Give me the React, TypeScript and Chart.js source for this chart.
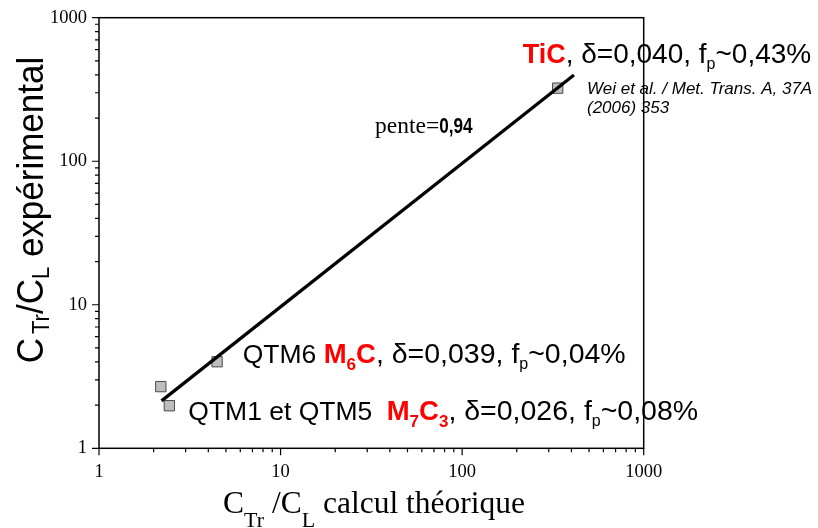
import { useEffect, useRef } from "react";
import { Chart, registerables } from "chart.js";

Chart.register(...registerables);

// ---- data ----
const xTheo = [2.19, 2.44, 4.47, 336];
const yExp = [2.69, 1.98, 4.01, 323];
const fitX = [2.21, 413];
const fitY = [2.14, 399];
const majorTicks = [1, 10, 100, 1000];
const tickLabels = ["1", "10", "100", "1000"];
const minorMultipliers = [2, 3, 4, 5, 6, 7, 8, 9];

const SANS = '"Liberation Sans", Arial, sans-serif';
const SERIF = '"Liberation Serif", "Times New Roman", serif';
const RED = "#ff0000";

type Seg = { t: string; font: string; color?: string; dy?: number; sx?: number; dx?: number };

function drawRich(ctx: CanvasRenderingContext2D, x: number, y: number, segs: Seg[]) {
  let cx = x;
  for (const s of segs) {
    ctx.font = s.font;
    ctx.fillStyle = s.color || "#000";
    const sx = s.sx ?? 1;
    ctx.save();
    ctx.translate(cx, y + (s.dy || 0));
    ctx.scale(sx, 1);
    ctx.fillText(s.t, 0, 0);
    ctx.restore();
    cx += ctx.measureText(s.t).width * sx + (s.dx || 0);
  }
  return cx;
}

export default function App() {
  const ref = useRef<HTMLCanvasElement>(null);

  useEffect(() => {
    const canvas = ref.current;
    if (!canvas) return;

    const overlay = {
      id: "overlay",
      afterDraw(chart: any) {
        const ctx: CanvasRenderingContext2D = chart.ctx;
        const xs = chart.scales.x;
        const ys = chart.scales.y;
        const { left, right, top, bottom } = chart.chartArea;
        ctx.save();
        // frame
        ctx.strokeStyle = "#000";
        ctx.lineWidth = 1.5;
        ctx.strokeRect(left, top, right - left, bottom - top);

        // ticks
        const minorVals: number[] = [];
        majorTicks.slice(0, -1).forEach((d) => minorMultipliers.forEach((m) => minorVals.push(d * m)));
        ctx.lineWidth = 1.2;
        ctx.beginPath();
        for (const v of majorTicks) {
          const px = xs.getPixelForValue(v);
          ctx.moveTo(px, bottom);
          ctx.lineTo(px, bottom + 7);
          const py = ys.getPixelForValue(v);
          ctx.moveTo(left, py);
          ctx.lineTo(left - 7, py);
        }
        for (const v of minorVals) {
          const px = xs.getPixelForValue(v);
          ctx.moveTo(px, bottom);
          ctx.lineTo(px, bottom + 4);
          const py = ys.getPixelForValue(v);
          ctx.moveTo(left, py);
          ctx.lineTo(left - 4, py);
        }
        ctx.stroke();

        // tick labels
        ctx.fillStyle = "#000";
        ctx.font = `18.5px ${SERIF}`;
        ctx.textBaseline = "middle";
        ctx.textAlign = "center";
        majorTicks.forEach((v, i) => ctx.fillText(tickLabels[i], xs.getPixelForValue(v), bottom + 24));
        ctx.textAlign = "right";
        majorTicks.forEach((v, i) => ctx.fillText(tickLabels[i], left - 12, ys.getPixelForValue(v)));

        ctx.textAlign = "left";
        ctx.textBaseline = "alphabetic";

        // x title
        const s30 = `31.5px ${SERIF}`;
        const s21 = `22px ${SERIF}`;
        drawRich(ctx, 223, 513, [
          { t: "C", font: s30 },
          { t: "Tr", font: s21, dy: 14 },
          { t: " /C", font: s30 },
          { t: "L", font: s21, dy: 14 },
          { t: " calcul théorique", font: s30 },
        ]);

        // y title (rotated)
        ctx.save();
        ctx.translate(43, 363.3);
        ctx.rotate(-Math.PI / 2);
        ctx.scale(1, 1.08);
        const a32 = `35px ${SANS}`;
        const a21 = `22px ${SANS}`;
        drawRich(ctx, 0, 0, [
          { t: "C", font: a32, dx: 4 },
          { t: "Tr", font: a21, dy: 6 },
          { t: "/C", font: a32 },
          { t: "L", font: a21, dy: 6 },
          { t: " expérimental", font: a32 },
        ]);
        ctx.restore();

        // annotations
        const f28 = `28.5px ${SANS}`;
        const b27 = `bold 27px ${SANS}`;
        const f26 = `26.5px ${SANS}`;
        const b26 = `bold 27.5px ${SANS}`;
        const sub = `16px ${SANS}`;
        const bsub = `bold 17px ${SANS}`;

        drawRich(ctx, 522.7, 63.3, [
          { t: "TiC", font: b27, color: RED },
          { t: ", δ=0,040, f", font: `28px ${SANS}` },
          { t: "p", font: sub, dy: 6 },
          { t: "~0,43%", font: `28px ${SANS}` },
        ]);

        const it = `italic 17px ${SANS}`;
        drawRich(ctx, 587, 94, [{ t: "Wei et al. / Met. Trans. A, 37A", font: it }]);
        drawRich(ctx, 587, 113, [{ t: "(2006) 353", font: it }]);

        drawRich(ctx, 375, 133.3, [
          { t: "pente=", font: `23.5px ${SERIF}` },
          { t: "0,94", font: `bold 22px ${SANS}`, sx: 0.78 },
        ]);

        drawRich(ctx, 242.7, 363.3, [
          { t: "QTM6 ", font: f26 },
          { t: "M", font: b26, color: RED },
          { t: "6", font: bsub, color: RED, dy: 6.7 },
          { t: "C", font: b26, color: RED },
          { t: ", δ=0,039, f", font: f28 },
          { t: "p", font: sub, dy: 6 },
          { t: "~0,04%", font: f28 },
        ]);

        drawRich(ctx, 188.3, 420, [{ t: "QTM1 et QTM5", font: f26 }]);
        drawRich(ctx, 386.7, 420, [
          { t: "M", font: b26, color: RED },
          { t: "7", font: bsub, color: RED, dy: 6.7 },
          { t: "C", font: b26, color: RED },
          { t: "3", font: bsub, color: RED, dy: 6.7 },
          { t: ", δ=0,026, f", font: f28 },
          { t: "p", font: sub, dy: 6 },
          { t: "~0,08%", font: f28 },
        ]);

        ctx.restore();
      },
    };

    const chart = new Chart(canvas, {
      type: "scatter",
      data: {
        datasets: [
          {
            type: "line",
            data: fitX.map((x, i) => ({ x, y: fitY[i] })),
            borderColor: "#000",
            borderWidth: 3.2,
            pointRadius: 0,
            fill: false,
            tension: 0,
          } as any,
          {
            type: "scatter",
            data: xTheo.map((x, i) => ({ x, y: yExp[i] })),
            pointStyle: "rect",
            pointRadius: 7.3,
            backgroundColor: "#bdbdbd",
            borderColor: "#4a4a4a",
            borderWidth: 1,
          },
        ],
      },
      options: {
        responsive: false,
        animation: false,
        devicePixelRatio: 1,
        events: [],
        layout: { padding: { left: 99, right: 174.3, top: 17.7, bottom: 79.7 } },
        plugins: { legend: { display: false }, tooltip: { enabled: false } },
        scales: {
          x: { type: "logarithmic", min: 1, max: 1000, display: false },
          y: { type: "logarithmic", min: 1, max: 1000, display: false },
        },
      },
      plugins: [overlay],
    });

    return () => chart.destroy();
  }, []);

  return (
    <canvas
      ref={ref}
      width={818}
      height={528}
      style={{ position: "fixed", left: 0, top: 0, display: "block", background: "#fff" }}
    />
  );
}
